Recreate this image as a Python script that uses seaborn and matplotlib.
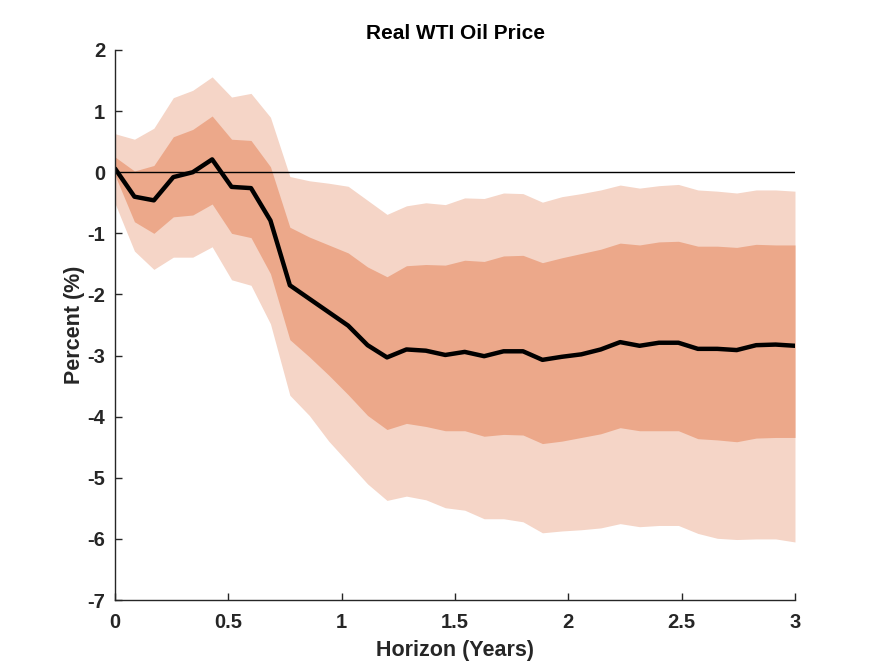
import numpy as np
import pandas as pd
import matplotlib
matplotlib.use("Agg")
import matplotlib.pyplot as plt
import seaborn as sns

sns.set_theme(style="white")
plt.rcParams["font.family"] = ["Liberation Sans", "DejaVu Sans"]
plt.rcParams["axes.unicode_minus"] = False

# horizon: 36 monthly steps spread over 0..3 years
horizon = np.linspace(0, 3, 36)

median = [0.06, -0.40, -0.46, -0.08, 0.00, 0.21, -0.24, -0.26, -0.79, -1.85,
          -2.07, -2.29, -2.51, -2.83, -3.03, -2.90, -2.92, -2.99, -2.94, -3.01,
          -2.93, -2.93, -3.07, -3.02, -2.98, -2.90, -2.78, -2.84, -2.79, -2.79,
          -2.89, -2.89, -2.91, -2.83, -2.82, -2.84]

inner_up = [0.25, 0.02, 0.11, 0.58, 0.70, 0.92, 0.54, 0.52, 0.09, -0.90,
            -1.06, -1.19, -1.32, -1.55, -1.71, -1.53, -1.51, -1.52, -1.44, -1.46,
            -1.37, -1.36, -1.48, -1.40, -1.33, -1.26, -1.16, -1.19, -1.14, -1.13,
            -1.21, -1.21, -1.23, -1.18, -1.19, -1.19]

inner_lo = [-0.05, -0.81, -1.00, -0.73, -0.70, -0.52, -1.00, -1.07, -1.66, -2.74,
            -3.02, -3.32, -3.64, -3.98, -4.21, -4.11, -4.16, -4.23, -4.23, -4.32,
            -4.29, -4.30, -4.44, -4.40, -4.34, -4.28, -4.18, -4.23, -4.23, -4.23,
            -4.36, -4.38, -4.41, -4.35, -4.34, -4.34]

outer_up = [0.63, 0.54, 0.72, 1.22, 1.34, 1.56, 1.23, 1.29, 0.90, -0.07,
            -0.14, -0.18, -0.23, -0.46, -0.69, -0.55, -0.50, -0.53, -0.42, -0.43,
            -0.34, -0.35, -0.49, -0.40, -0.35, -0.29, -0.21, -0.26, -0.22, -0.20,
            -0.29, -0.31, -0.34, -0.29, -0.29, -0.31]

outer_lo = [-0.51, -1.29, -1.59, -1.39, -1.39, -1.22, -1.76, -1.85, -2.48, -3.65,
            -3.98, -4.40, -4.75, -5.10, -5.37, -5.30, -5.36, -5.49, -5.53, -5.67,
            -5.67, -5.72, -5.90, -5.87, -5.85, -5.82, -5.75, -5.80, -5.78, -5.78,
            -5.91, -5.99, -6.01, -6.00, -6.00, -6.05]

df = pd.DataFrame({"Horizon": horizon, "Median": median})

fig = plt.figure(figsize=(8.8, 6.72), dpi=100)
ax = fig.add_axes([0.1307, 0.1071, 0.7727, 0.8185])

ax.fill_between(horizon, outer_lo, outer_up, color="#F5D5C7", linewidth=0)
ax.fill_between(horizon, inner_lo, inner_up, color="#ECA88A", linewidth=0)
ax.axhline(0, color="black", linewidth=1.0)

sns.lineplot(data=df, x="Horizon", y="Median", color="black", linewidth=3.2, ax=ax)

text_col = "#262626"
ax.set_xlim(0, 3)
ax.set_ylim(-7, 2)
ax.set_xticks([0, 0.5, 1, 1.5, 2, 2.5, 3])
ax.set_xticklabels(["0", "0.5", "1", "1.5", "2", "2.5", "3"])
ax.set_yticks(range(-7, 3))

ax.set_title("Real WTI Oil Price", fontsize=15, fontweight="bold", color="black", pad=8)
ax.set_xlabel("Horizon (Years)", fontsize=15.5, fontweight="bold", color=text_col, labelpad=6)
ax.set_ylabel("Percent (%)", fontsize=15.5, fontweight="bold", color=text_col, labelpad=2)

for s in ["top", "right"]:
    ax.spines[s].set_visible(False)
for s in ["left", "bottom"]:
    ax.spines[s].set_color(text_col)
    ax.spines[s].set_linewidth(1.0)

ax.tick_params(axis="both", direction="in", length=5, width=1, color=text_col,
               labelsize=14.5, labelcolor=text_col, left=True, bottom=True)
ax.tick_params(axis="x", pad=9)
ax.tick_params(axis="y", pad=7)
for lab in ax.get_xticklabels() + ax.get_yticklabels():
    lab.set_fontweight("bold")

fig.savefig("out.png", dpi=100, facecolor="white")
